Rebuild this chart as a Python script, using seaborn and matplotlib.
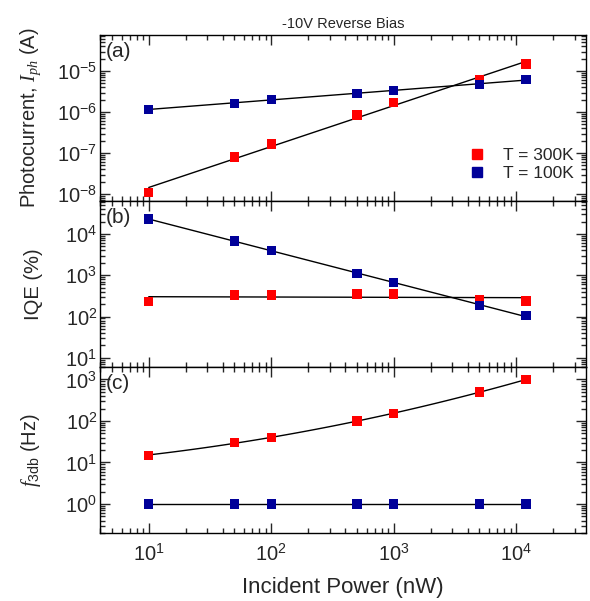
import numpy as np
import pandas as pd
import matplotlib
matplotlib.use("Agg")
import matplotlib.pyplot as plt
import seaborn as sns
from matplotlib.ticker import LogLocator, NullFormatter
from matplotlib.lines import Line2D

sns.set_style("ticks")
plt.rcParams['font.family'] = ['Liberation Sans', 'DejaVu Sans']
plt.rcParams['mathtext.fontset'] = 'custom'
plt.rcParams['mathtext.rm'] = 'Liberation Sans'
plt.rcParams['mathtext.it'] = 'Liberation Serif:italic'
plt.rcParams['mathtext.bf'] = 'Liberation Sans:bold'

power = [10, 50, 100, 500, 1000, 5000, 12000]
iph_300 = [1.1e-8, 8.0e-8, 1.66e-7, 8.5e-7, 1.7e-6, 6.3e-6, 1.5e-5]
iph_100 = [1.18e-6, 1.65e-6, 2.0e-6, 2.9e-6, 3.4e-6, 4.7e-6, 6.3e-6]
iqe_300 = [230, 330, 330, 350, 350, 260, 240]
iqe_100 = [23000, 6800, 4000, 1100, 660, 186, 105]
f3db_300 = [15, 30, 40, 100, 150, 500, 1000]
f3db_100 = [1, 1, 1, 1, 1, 1, 1]
series_labels = ["T = 300K", "T = 100K"]
colors = {"T = 300K": "#ff0000", "T = 100K": "#000099"}
panel_tags = ["(a)", "(b)", "(c)"]
title = "-10V Reverse Bias"

fig = plt.figure(figsize=(5.9, 6.01), dpi=100)
axes = fig.subplots(3, 1, sharex=True)
fig.subplots_adjust(left=100/590, right=586/590, top=1-35/601, bottom=1-533/601, hspace=0)

panels = [
    (iph_300, iph_100, (6.8e-9, 7.6e-5), "Photocurrent, $I_{ph}$ (A)", 1, 1),
    (iqe_300, iqe_100, (6, 6.3e4), "IQE (%)", 1, 1),
    (f3db_300, f3db_100, (0.2, 2000), r"$f_{\mathrm{3db}}$ (Hz)", 2, 1),
]

lx = np.log10(power)
for i, (ax, (v300, v100, ylim, ylab, deg300, deg100)) in enumerate(zip(axes, panels)):
    df = pd.DataFrame({
        "power": power * 2,
        "value": list(v300) + list(v100),
        "T": [series_labels[0]] * len(power) + [series_labels[1]] * len(power),
    })
    for vals, lab, deg in [(v300, series_labels[0], deg300), (v100, series_labels[1], deg100)]:
        coef = np.polyfit(lx, np.log10(vals), deg)
        xs = np.logspace(lx[0], lx[-1], 100)
        fit = pd.DataFrame({"power": xs, "value": 10 ** np.polyval(coef, np.log10(xs))})
        sns.lineplot(data=fit, x="power", y="value", ax=ax, color="black", lw=1.0, zorder=2)
    sns.scatterplot(data=df, x="power", y="value", hue="T", palette=colors, marker="s",
                    s=45, edgecolor=None, linewidth=0, ax=ax, legend=False, zorder=3)
    ax.set_xscale("log")
    ax.set_yscale("log")
    ax.set_xlim(4, 37000)
    ax.set_ylim(*ylim)
    ax.set_ylabel(ylab, fontsize=14.5)
    ax.yaxis.set_label_coords(-0.117, 0.5)
    ax.set_xlabel("")
    ax.yaxis.set_major_locator(LogLocator(base=10, numticks=20))
    ax.yaxis.set_minor_locator(LogLocator(base=10, subs=np.arange(2, 10), numticks=20))
    ax.yaxis.set_minor_formatter(NullFormatter())
    ax.xaxis.set_major_locator(LogLocator(base=10, numticks=20))
    ax.xaxis.set_minor_locator(LogLocator(base=10, subs=np.arange(2, 10), numticks=20))
    ax.xaxis.set_minor_formatter(NullFormatter())
    ax.tick_params(which="both", direction="in", top=True, right=True, width=1.0, labelsize=14.5)
    ax.tick_params(axis="y", which="major", pad=2)
    ax.tick_params(axis="x", which="major", pad=7)
    ax.tick_params(which="major", length=7)
    ax.tick_params(which="minor", length=3.5)
    for sp in ax.spines.values():
        sp.set_linewidth(1.0)
        sp.set_color("black")
    ax.text(0.012, 0.9, panel_tags[i], transform=ax.transAxes, fontsize=15, va="center", ha="left")

axes[0].set_title(title, fontsize=10.5, pad=5)
axes[2].set_xlabel("Incident Power (nW)", fontsize=16, labelpad=9)

handles = [Line2D([], [], ls="", marker="s", color=colors[l], markersize=7) for l in series_labels]
axes[0].legend(handles, series_labels, loc="lower right", frameon=False, fontsize=12.5,
               handletextpad=0.9, handlelength=1.2, labelspacing=0.2,
               borderaxespad=0.3, bbox_to_anchor=(1.0, 0.045))

fig.savefig("out.png", dpi=100)
